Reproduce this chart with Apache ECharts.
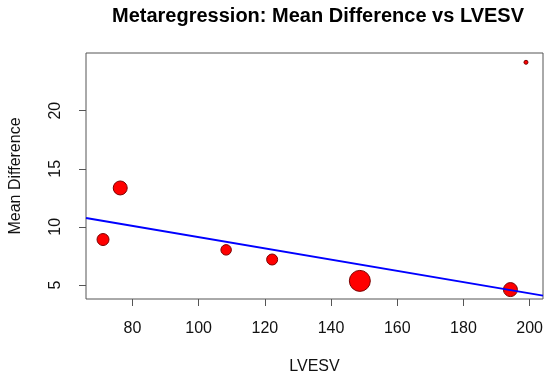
<!DOCTYPE html>
<html>
<head>
<meta charset="utf-8">
<script src="https://cdn.jsdelivr.net/npm/echarts@6/dist/echarts.min.js"></script>
<style>html,body{margin:0;padding:0;background:#fff}#c{width:550px;height:383px}</style>
</head>
<body>
<div id="c"></div>
<script>
// Data
var lvesv = [71.1, 76.3, 108.3, 122.2, 148.7, 194.2, 198.9];
var meanDiff = [8.91, 13.35, 8.02, 7.19, 5.35, 4.6, 24.17];
var weights = [12, 14, 10.5, 11, 21, 14, 4];   // marker diameter (study weight)
var fitX = [65.96, 204.04];
var fitY = [10.76, 4.08];
var xTicks = [80, 100, 120, 140, 160, 180, 200];
var yTicks = [5, 10, 15, 20];

var pts = lvesv.map(function (x, i) { return [x, meanDiff[i], weights[i]]; });
var fit = fitX.map(function (x, i) { return [x, fitY[i]]; });

var chart = echarts.init(document.getElementById('c'));
var font = 'Liberation Sans, Arial, sans-serif';
chart.setOption({
  animation: false,
  title: {
    text: 'Metaregression: Mean Difference vs LVESV',
    left: 313, top: 1, textAlign: 'center',
    textStyle: { fontFamily: font, fontSize: 20, fontWeight: 'bold', color: '#000' }
  },
  grid: { left: 83.5, right: 7, top: 53, bottom: 84, show: true, borderColor: '#555', borderWidth: 1, backgroundColor: 'transparent' },
  xAxis: {
    type: 'value', min: 65.96, max: 204.04,
    name: 'LVESV', nameLocation: 'middle', nameGap: 60,
    nameTextStyle: { fontFamily: font, fontSize: 16, color: '#111' },
    axisLine: { show: false },
    splitLine: { show: false },
    axisTick: { show: true, length: 7, customValues: xTicks, lineStyle: { color: '#555' } },
    axisLabel: { customValues: xTicks, margin: 22, fontFamily: font, fontSize: 16, color: '#111' }
  },
  yAxis: {
    type: 'value', min: 3.79, max: 24.97,
    name: 'Mean Difference', nameLocation: 'middle', nameGap: 62,
    nameTextStyle: { fontFamily: font, fontSize: 16, color: '#111' },
    axisLine: { show: false },
    splitLine: { show: false },
    axisTick: { show: true, length: 7, customValues: yTicks, lineStyle: { color: '#555' } },
    axisLabel: { customValues: yTicks, rotate: 90, margin: 22, fontFamily: font, fontSize: 16, color: '#111' }
  },
  series: [
    {
      type: 'scatter', data: pts, z: 2,
      symbolSize: function (v) { return v[2]; },
      itemStyle: { color: '#ff0000', borderColor: '#7a0000', borderWidth: 1, opacity: 1 }
    },
    {
      type: 'line', data: fit, z: 3, symbol: 'none',
      lineStyle: { color: '#0000ff', width: 2 }
    }
  ]
});
</script>
</body>
</html>
